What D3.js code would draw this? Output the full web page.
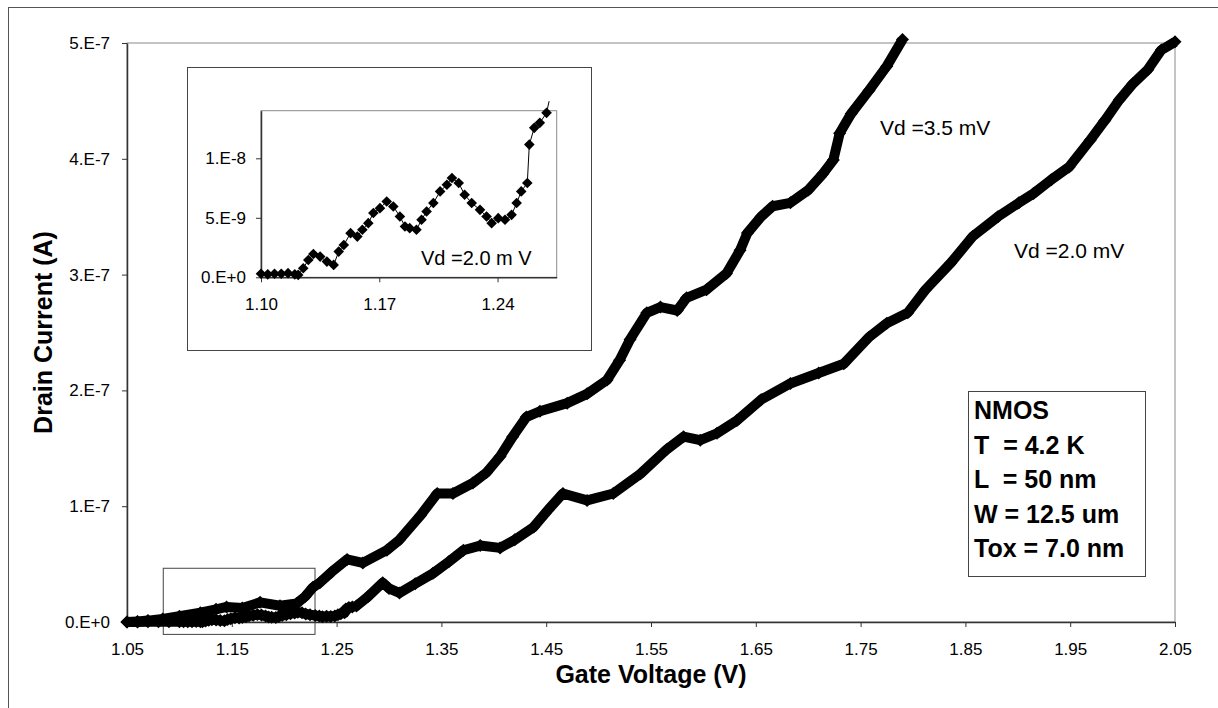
<!DOCTYPE html>
<html>
<head>
<meta charset="utf-8">
<script src="https://cdn.jsdelivr.net/npm/d3@7"></script>
<style>
  body { margin: 0; background: #fff; }
  text { font-family: Arial, "Liberation Sans", sans-serif; }
</style>
</head>
<body>
<div id="chart"></div>
<script>
// Tick values
var vgTicks = [1.05, 1.15, 1.25, 1.35, 1.45, 1.55, 1.65, 1.75, 1.85, 1.95, 2.05];
var idTicks = [0, 1e-7, 2e-7, 3e-7, 4e-7, 5e-7];
var insetVgTicks = [1.10, 1.17, 1.24];
var insetIdTicks = [0, 5e-9, 1e-8];

// Vd = 3.5 mV, gate voltage (V) and drain current (nA)
var vd35Vg = [1.05, 1.06, 1.07, 1.084, 1.10, 1.12, 1.135, 1.145, 1.16, 1.177, 1.196, 1.212, 1.22, 1.2275,
  1.234, 1.245, 1.26, 1.275, 1.298, 1.31, 1.33, 1.346, 1.361, 1.38, 1.393, 1.406, 1.418, 1.431, 1.444,
  1.47, 1.489, 1.508, 1.52, 1.53, 1.546, 1.559, 1.575, 1.584, 1.603, 1.622, 1.635, 1.642, 1.655, 1.666,
  1.683, 1.70, 1.714, 1.724, 1.730, 1.741, 1.758, 1.775, 1.790];
var vd35Id = [0, 0.5, 1.2, 2.6, 5, 8, 11, 13, 12, 17, 14, 16, 22, 30,
  34, 43, 54, 51, 62, 71, 92, 111, 111, 120, 129, 143, 160, 177, 182,
  189, 197, 209, 226, 244, 267, 272, 269, 280, 287, 301, 321, 336, 350, 359,
  362, 373, 387, 399, 422, 439, 459, 480, 503];

// Vd = 2.0 mV, low range (also shown in the inset)
var insetVg = [1.100, 1.104, 1.108, 1.112, 1.116, 1.120, 1.122, 1.125, 1.128, 1.131, 1.135, 1.139, 1.143,
  1.146, 1.149, 1.153, 1.157, 1.160, 1.1635, 1.1665, 1.1704, 1.1744, 1.1783, 1.1822, 1.1852, 1.188, 1.192,
  1.195, 1.198, 1.202, 1.206, 1.210, 1.213, 1.217, 1.2205, 1.2247, 1.2296, 1.2335, 1.2365, 1.2404, 1.2444,
  1.2483, 1.2513, 1.254, 1.2576, 1.2588, 1.2617, 1.265, 1.269, 1.2705];
var insetId = [0.3, 0.25, 0.3, 0.3, 0.35, 0.25, 0.2, 0.76, 1.46, 1.96, 1.74, 1.32, 1.04,
  2.16, 2.72, 3.71, 3.42, 3.99, 4.55, 5.40, 5.81, 6.37, 5.95, 5.11, 4.27, 4.13, 3.99,
  4.83, 5.53, 6.24, 7.22, 7.78, 8.35, 7.92, 6.94, 6.24, 5.67, 5.11, 4.55, 4.97, 4.83,
  5.25, 6.24, 7.22, 7.92, 11.15, 12.56, 12.98, 13.82, 14.8];

// Vd = 2.0 mV, before and after the inset range
var vd20StartVg = [1.05, 1.06, 1.07, 1.08, 1.09];
var vd20StartId = [0, 0.1, 0.2, 0.2, 0.3];
var vd20EndVg = [1.28, 1.294, 1.30, 1.31, 1.325, 1.342, 1.357, 1.371, 1.387, 1.406, 1.42, 1.438, 1.452,
  1.466, 1.489, 1.514, 1.540, 1.565, 1.581, 1.597, 1.613, 1.632, 1.655, 1.683, 1.71, 1.734, 1.758, 1.775,
  1.795, 1.812, 1.836, 1.857, 1.881, 1.901, 1.915, 1.932, 1.949, 1.969, 1.983, 1.997, 2.010, 2.024, 2.037, 2.05];
var vd20EndId = [22, 34, 29, 25, 33, 42, 52, 62, 66, 64, 71, 82, 97,
  111, 105, 111, 128, 149, 160, 157, 163, 174, 192, 206, 215, 223, 246, 258,
  267, 287, 310, 333, 350, 362, 370, 382, 393, 416, 433, 451, 465, 477, 494, 501];

var infoLines = ["NMOS", "T  = 4.2 K", "L  = 50 nm", "W = 12.5 um", "Tox = 7.0 nm"];

function pairs(vg, id) {
    return vg.map(function (v, i) { return { v: v, i: id[i] * 1e-9 }; });
}
var vd35 = pairs(vd35Vg, vd35Id);
var inset = pairs(insetVg, insetId);
var vd20 = pairs(vd20StartVg, vd20StartId)
    .concat(inset.filter(function (d) { return d.v < 1.27; }))
    .concat(pairs(vd20EndVg, vd20EndId));

var width = 1218, height = 708;
var svg = d3.select("#chart").append("svg")
    .attr("width", width)
    .attr("height", height);

// outer chart frame
svg.append("rect")
    .attr("x", 8.5).attr("y", 7.5)
    .attr("width", 1230).attr("height", 720)
    .attr("fill", "none").attr("stroke", "#555");

var x = d3.scaleLinear().domain([1.05, 2.05]).range([127, 1175]);
var y = d3.scaleLinear().domain([0, 5e-7]).range([622, 43]);

var expFormat = function (d) {
    return d === 0 ? "0.E+0" : d.toExponential(0).replace("e", ".E");
};

// plot area border
svg.append("rect")
    .attr("x", x(1.05)).attr("y", y(5e-7))
    .attr("width", x(2.05) - x(1.05)).attr("height", y(0) - y(5e-7))
    .attr("fill", "none").attr("stroke", "#8a8a8a");

function styleAxis(g, size) {
    g.select(".domain").attr("stroke", "#333").attr("stroke-width", 1.5);
    g.selectAll(".tick line").attr("stroke", "#333");
    g.selectAll(".tick text").attr("fill", "#000")
        .style("font-size", size + "px")
        .style("font-family", "Arial, 'Liberation Sans', sans-serif");
}

svg.append("g")
    .attr("transform", "translate(0," + y(0) + ")")
    .call(d3.axisBottom(x).tickValues(vgTicks).tickFormat(d3.format(".2f"))
        .tickSize(5).tickSizeOuter(0).tickPadding(16))
    .call(styleAxis, 17);

svg.append("g")
    .attr("transform", "translate(" + x(1.05) + ",0)")
    .call(d3.axisLeft(y).tickValues(idTicks).tickFormat(expFormat)
        .tickSize(5).tickSizeOuter(0).tickPadding(12))
    .call(styleAxis, 17);

// zoom window marking the inset region
svg.append("rect")
    .attr("x", x(1.0846)).attr("y", y(4.64e-8))
    .attr("width", x(1.2294) - x(1.0846)).attr("height", y(-1.07e-8) - y(4.64e-8))
    .attr("fill", "none").attr("stroke", "#444");

// diamond marker
function diamond(g, data, sx, sy, r) {
    g.selectAll("path.pt")
        .data(data)
        .join("path")
        .attr("class", "pt")
        .attr("d", "M0," + (-r) + "L" + r + ",0L0," + r + "L" + (-r) + ",0Z")
        .attr("transform", function (d) { return "translate(" + sx(d.v) + "," + sy(d.i) + ")"; })
        .attr("fill", "#000");
}

var mainLine = d3.line().x(function (d) { return x(d.v); }).y(function (d) { return y(d.i); });

[vd20, vd35].forEach(function (series) {
    var g = svg.append("g");
    g.append("path")
        .attr("d", mainLine(series))
        .attr("fill", "none")
        .attr("stroke", "#000")
        .attr("stroke-width", 10)
        .attr("stroke-linejoin", "round");
    diamond(g, series, x, y, 6.5);
});

// curve labels
svg.append("text").attr("x", 880).attr("y", 135)
    .style("font-size", "21px").text("Vd =3.5 mV");
svg.append("text").attr("x", 1014).attr("y", 258)
    .style("font-size", "21px").text("Vd =2.0 mV");

// axis titles
svg.append("text")
    .attr("x", (x(1.05) + x(2.05)) / 2).attr("y", 683)
    .attr("text-anchor", "middle")
    .style("font-size", "25px").style("font-weight", "bold")
    .text("Gate Voltage (V)");
svg.append("text")
    .attr("transform", "translate(52," + (y(0) + y(5e-7)) / 2 + ") rotate(-90)")
    .attr("text-anchor", "middle")
    .style("font-size", "25px").style("font-weight", "bold")
    .text("Drain Current (A)");

// device info box
svg.append("rect")
    .attr("x", 968.5).attr("y", 391.5)
    .attr("width", 177).attr("height", 185)
    .attr("fill", "#fff").attr("stroke", "#444");
svg.append("g").selectAll("text")
    .data(infoLines)
    .join("text")
    .attr("x", 974)
    .attr("y", function (d, i) { return 419 + i * 34.5; })
    .attr("xml:space", "preserve")
    .style("white-space", "pre")
    .style("font-size", "25px").style("font-weight", "bold")
    .text(function (d) { return d; });

// ---- inset ----
svg.append("rect")
    .attr("x", 187.5).attr("y", 67.5)
    .attr("width", 404).attr("height", 283)
    .attr("fill", "#fff").attr("stroke", "#444");

var ix = d3.scaleLinear().domain([1.10, 1.275]).range([261, 556.7]);
var iy = d3.scaleLinear().domain([0, 1.4e-8]).range([277.3, 110.7]);

svg.append("rect")
    .attr("x", ix(1.10)).attr("y", iy(1.4e-8))
    .attr("width", ix(1.275) - ix(1.10)).attr("height", iy(0) - iy(1.4e-8))
    .attr("fill", "none").attr("stroke", "#8a8a8a");

svg.append("g")
    .attr("transform", "translate(0," + iy(0) + ")")
    .call(d3.axisBottom(ix).tickValues(insetVgTicks).tickFormat(d3.format(".2f"))
        .tickSize(5).tickSizeOuter(0).tickPadding(16))
    .call(styleAxis, 17);

svg.append("g")
    .attr("transform", "translate(" + ix(1.10) + ",0)")
    .call(d3.axisLeft(iy).tickValues(insetIdTicks).tickFormat(expFormat)
        .tickSize(5).tickSizeOuter(0).tickPadding(10))
    .call(styleAxis, 17);

var insetLine = d3.line().x(function (d) { return ix(d.v); }).y(function (d) { return iy(d.i); });
var ig = svg.append("g");
ig.append("path")
    .attr("d", insetLine(inset))
    .attr("fill", "none")
    .attr("stroke", "#000")
    .attr("stroke-width", 1);
diamond(ig, inset.filter(function (d) { return d.i <= 1.4e-8; }), ix, iy, 5.3);

svg.append("text").attr("x", 421).attr("y", 265)
    .attr("xml:space", "preserve")
    .style("font-size", "20px").text("Vd =2.0 m V");
</script>
</body>
</html>
